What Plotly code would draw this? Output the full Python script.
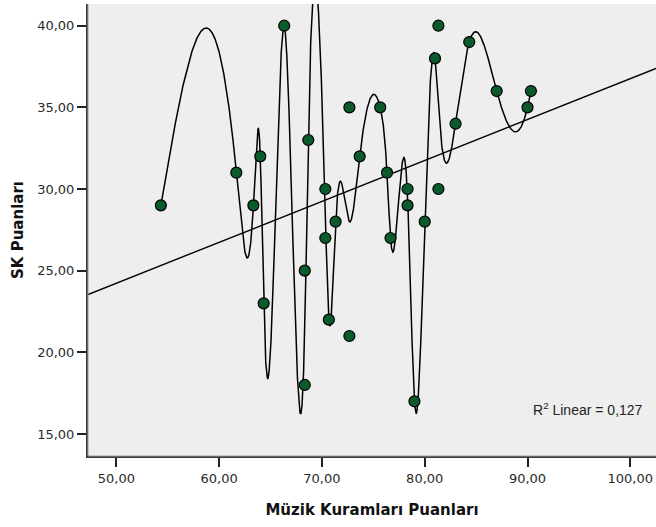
import numpy as np
import plotly.graph_objects as go

# Scores per student
muzik_kuram = [54.33, 61.67, 63.33, 64.00, 64.33, 66.33, 68.33, 68.33, 68.67,
               70.33, 70.33, 70.67, 71.33, 72.67, 72.67, 73.67, 75.67, 76.33,
               76.67, 78.33, 78.33, 79.00, 80.00, 81.00, 81.33, 81.33, 83.00,
               84.33, 87.00, 90.00, 90.33]
sk_puan = [29, 31, 29, 32, 23, 40, 25, 18, 33,
           30, 27, 22, 28, 35, 21, 32, 35, 31,
           27, 30, 29, 17, 28, 38, 40, 30, 34,
           39, 36, 35, 36]

x_ticks = [50, 60, 70, 80, 90, 100]
y_ticks = [15, 20, 25, 30, 35, 40]
r2_label = "0,127"

x = np.array(muzik_kuram)
y = np.array(sk_puan, dtype=float)

# Linear fit
slope, intercept = np.polyfit(x, y, 1)
x_range = [47.24, 102.5]
y_range = [13.65, 41.33]
fit_x = np.array(x_range)
fit_y = slope * fit_x + intercept

# Natural cubic spline through the mean score at each distinct x
ux = np.unique(x)
uy = np.array([y[x == v].mean() for v in ux])
n = len(ux)
h = np.diff(ux)
A = np.zeros((n, n))
b = np.zeros(n)
A[0, 0] = 1
A[-1, -1] = 1
for i in range(1, n - 1):
    A[i, i - 1] = h[i - 1]
    A[i, i] = 2 * (h[i - 1] + h[i])
    A[i, i + 1] = h[i]
    b[i] = 6 * ((uy[i + 1] - uy[i]) / h[i] - (uy[i] - uy[i - 1]) / h[i - 1])
M = np.linalg.solve(A, b)

sx = np.linspace(ux[0], ux[-1], 4000)
idx = np.clip(np.searchsorted(ux, sx) - 1, 0, n - 2)
x0, x1 = ux[idx], ux[idx + 1]
hh = x1 - x0
t0 = x1 - sx
t1 = sx - x0
sy = (M[idx] * t0 ** 3 / (6 * hh) + M[idx + 1] * t1 ** 3 / (6 * hh)
      + (uy[idx] / hh - M[idx] * hh / 6) * t0
      + (uy[idx + 1] / hh - M[idx + 1] * hh / 6) * t1)

tick_font = dict(family="DejaVu Sans", size=13, color="#2a2a2a")
title_font = dict(family="DejaVu Sans", size=15, color="#111111", weight="bold")

fig = go.Figure()
fig.add_trace(go.Scatter(x=fit_x, y=fit_y, mode="lines",
                         line=dict(color="black", width=1.4),
                         hoverinfo="skip", showlegend=False))
fig.add_trace(go.Scatter(x=sx, y=sy, mode="lines",
                         line=dict(color="black", width=1.5),
                         hoverinfo="skip", showlegend=False))
fig.add_trace(go.Scatter(x=muzik_kuram, y=sk_puan, mode="markers",
                         marker=dict(size=11, color="#0b5a2b",
                                     line=dict(color="black", width=1.2)),
                         showlegend=False))

fig.add_annotation(x=1, y=0, xref="paper", yref="paper",
                   xanchor="right", yanchor="bottom", xshift=-11, yshift=36,
                   text="R<sup>2</sup> Linear = " + r2_label, showarrow=False,
                   font=dict(family="Liberation Sans", size=14, color="#222222"))

# Grey outer edge of the left and bottom frame lines
fig.add_shape(type="line", xref="paper", yref="paper", x0=0, x1=0, y0=0, y1=1,
              xsizemode="pixel", xanchor=0,
              line=dict(color="#9a9a9a", width=1))
fig.add_shape(type="line", xref="paper", yref="paper", x0=0, x1=1, y0=0, y1=0,
              line=dict(color="#9a9a9a", width=1))

fig.update_layout(
    width=656, height=527,
    margin=dict(l=88, r=0, t=4, b=71),
    paper_bgcolor="white",
    plot_bgcolor="#eeeeee",
    xaxis=dict(range=x_range, tickvals=x_ticks,
               ticktext=[f"{v},00" for v in x_ticks],
               showgrid=False, zeroline=False,
               showline=True, linecolor="#3a3a3a", linewidth=2,
               ticks="outside", ticklen=9, tickwidth=2, tickcolor="#222222",
               tickfont=tick_font,
               title=dict(text="Müzik Kuramları Puanları", font=title_font,
                          standoff=20)),
    yaxis=dict(range=y_range, tickvals=y_ticks,
               ticktext=[f"{v},00" for v in y_ticks],
               showgrid=False, zeroline=False,
               showline=True, linecolor="#3a3a3a", linewidth=2,
               ticks="outside", ticklen=9, tickwidth=2, tickcolor="#222222",
               tickfont=tick_font,
               title=dict(text="SK Puanları", font=title_font, standoff=10)),
)

fig.write_html("out.html")
